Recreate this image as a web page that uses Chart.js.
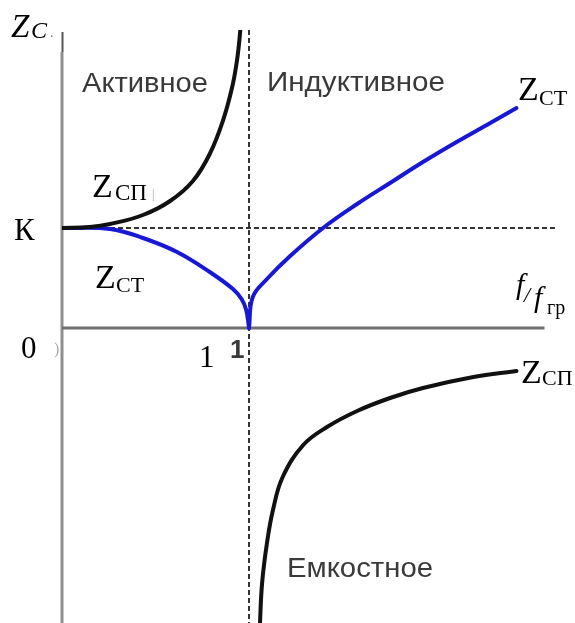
<!DOCTYPE html>
<html>
<head>
<meta charset="utf-8">
<script src="https://cdn.jsdelivr.net/npm/chart.js@4"></script>
<style>
html,body{margin:0;padding:0;background:#fff;}
</style>
</head>
<body>
<canvas id="zChart" width="575" height="623"></canvas>
<script>

/* Curves: x = f/fгр, y = Z in units of K */

// ZСП, active region (rises to the asymptote at f = fгр)
const spUpperX=[0,0.15,0.257,0.433,0.578,0.70,0.79,0.86,0.91,0.936,0.952,0.965];
const spUpperY=[1.0,1.01,1.04,1.13,1.27,1.47,1.74,2.07,2.41,2.68,2.95,3.3];

// ZСТ below cutoff
const stLeftX=[0,0.257,0.433,0.615,0.79,0.914,0.96,0.985,1.0];
const stLeftY=[1.0,0.99,0.90,0.76,0.56,0.39,0.29,0.18,0];

// ZСТ above cutoff
const stRightX=[1.0,1.02,1.096,1.22,1.396,1.578,1.754,1.93,2.11,2.29,2.43];
const stRightY=[0,0.31,0.49,0.72,1.0,1.24,1.45,1.66,1.86,2.05,2.2];

// ZСП, capacitive region
const spLowerX=[1.055,1.059,1.07,1.096,1.128,1.18,1.29,1.417,1.578,1.754,1.93,2.20,2.43];
const spLowerY=[-3.2,-2.94,-2.55,-2.15,-1.82,-1.49,-1.17,-0.99,-0.83,-0.70,-0.60,-0.49,-0.43];

// reference levels
const kLevel=1;
const cutoff=1;

function pairs(xs,ys){
return xs.map((x,i)=>({x:x,y:ys[i]}));
}

const SERIF='"Liberation Serif", "Times New Roman", serif';
const SANS='"Liberation Sans", Arial, sans-serif';

function fitText(c,str,x,y,w,font){
c.font=font;
const m=c.measureText(str).width;
c.save();
c.translate(x,y);
c.scale(w/m,1);
c.fillText(str,0,0);
c.restore();
}

function txt(c,str,x,y,font,color){
c.font=font;
c.fillStyle=color||'#000';
c.fillText(str,x,y);
}

/* axes and dashed guide lines, under the curves */
const axesPlugin={
id:'axesPlugin',
beforeDatasetsDraw(chart){
const c=chart.ctx;
const xs=chart.scales.x, ys=chart.scales.y;
const x0=xs.getPixelForValue(0);
const y0=ys.getPixelForValue(0);
const yK=ys.getPixelForValue(kLevel);
const x1=xs.getPixelForValue(cutoff);
c.save();

// vertical axis
c.strokeStyle='#8f8f8f';
c.lineWidth=3;
c.beginPath();
c.moveTo(x0,52);
c.lineTo(x0,chart.height);
c.stroke();
c.strokeStyle='#555';
c.lineWidth=2;
c.beginPath();
c.moveTo(x0+0.5,32);
c.lineTo(x0+0.5,52);
c.stroke();

// horizontal axis
c.strokeStyle='#707070';
c.lineWidth=3;
c.beginPath();
c.moveTo(x0,y0);
c.lineTo(xs.getPixelForValue(2.58),y0);
c.stroke();

// dashed lines at K and f = fгр
c.strokeStyle='#333';
c.lineWidth=2;
c.setLineDash([5,3]);
c.beginPath();
c.moveTo(x0,yK);
c.lineTo(xs.getPixelForValue(2.64),yK);
c.stroke();
c.beginPath();
c.moveTo(x1,chart.chartArea.top);
c.lineTo(x1,chart.height);
c.stroke();
c.restore();
}
};

/* text labels */
const labelsPlugin={
id:'labelsPlugin',
afterDatasetsDraw(chart){
const c=chart.ctx;
c.save();
c.textBaseline='alphabetic';
c.textAlign='left';

// region names
c.fillStyle='#3a3a3a';
c.filter='blur(0.5px)';
fitText(c,'Активное',82,92,126,'28px '+SANS);
fitText(c,'Индуктивное',267,91,178,'28px '+SANS);
fitText(c,'Емкостное',287,577,146,'28px '+SANS);
c.font='bold 26px '+SANS;
c.fillText('1',230,358);
c.filter='none';

// axis names
txt(c,'Z',11,37,'italic 33px '+SERIF);
txt(c,'C',31,38,'italic 24px '+SERIF);
txt(c,'.',50,37,'14px '+SERIF,'#777');
txt(c,'К',14,240,'31px '+SERIF);
txt(c,'0',21,358,'31px '+SERIF);
txt(c,')',54,354,'16px '+SERIF,'#aaa');
txt(c,'1',199,367,'31px '+SERIF);

txt(c,'f',516,294,'italic 30px '+SERIF);
txt(c,'/',524,302,'italic 22px '+SERIF);
txt(c,'f',534,307,'italic 30px '+SERIF);
txt(c,'гр',547,314,'20px '+SERIF);

// curve names
txt(c,'Z',92,197,'34px '+SERIF);
txt(c,'СП',115,200,'23px '+SERIF);
txt(c,'|',152,198,'12px '+SERIF,'#999');

txt(c,'Z',95,288,'34px '+SERIF);
txt(c,'СТ',116,292,'22px '+SERIF);

txt(c,'Z',518,100,'34px '+SERIF);
txt(c,'СТ',539,105,'22px '+SERIF);

txt(c,'Z',521,383,'34px '+SERIF);
txt(c,'СП',542,385,'22px '+SERIF);

c.restore();
}
};

const ctx=document.getElementById('zChart');

const lineStyle={borderWidth:4,showLine:true,pointRadius:0,tension:0.4,borderCapStyle:'round',borderJoinStyle:'round'};

const chart=new Chart(ctx,{
type:'scatter',
data:{
datasets:[
Object.assign({data:pairs(spUpperX,spUpperY),borderColor:'#111'},lineStyle),
Object.assign({data:pairs(stLeftX,stLeftY),borderColor:'#1818d4'},lineStyle),
Object.assign({data:pairs(stRightX,stRightY),borderColor:'#1818d4'},lineStyle),
Object.assign({data:pairs(spLowerX,spLowerY),borderColor:'#111'},lineStyle)
]
},
options:{
responsive:false,
animation:false,
devicePixelRatio:1,
events:[],
layout:{padding:{left:62,top:30,right:0,bottom:0}},
plugins:{legend:{display:false},tooltip:{enabled:false}},
scales:{
x:{type:'linear',min:0,max:2.743,display:false},
y:{type:'linear',min:-2.95,max:2.98,display:false}
}
},
plugins:[axesPlugin,labelsPlugin]
});

</script>
</body>
</html>
